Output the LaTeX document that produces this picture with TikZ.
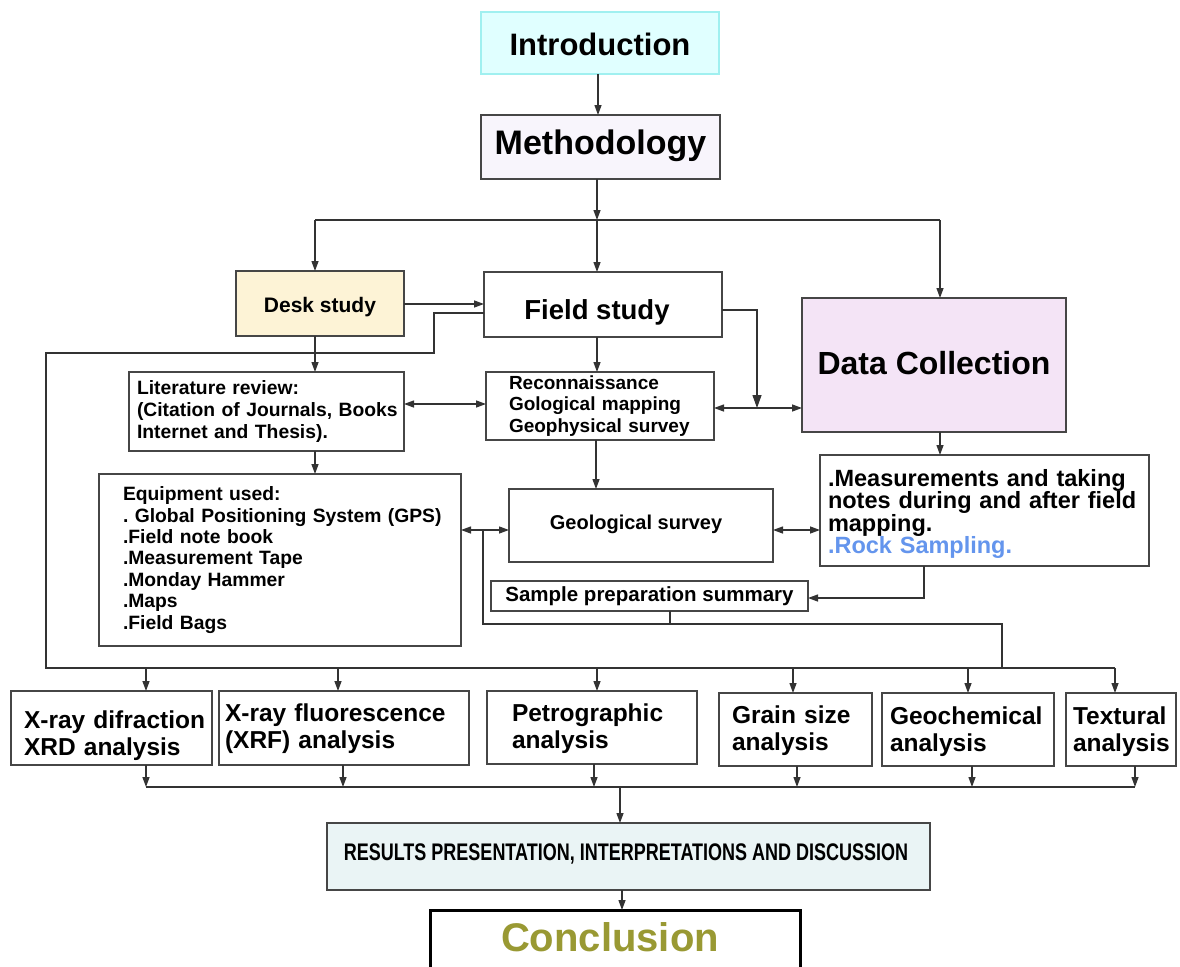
\documentclass[tikz,border=0pt]{standalone}
\usepackage{fontspec}
\setmainfont{Liberation Sans}
\newfontfamily\narrowfont[FakeStretch=0.75]{Liberation Sans}
\usetikzlibrary{arrows.meta,calc}
\definecolor{boxline}{RGB}{70,70,70}
\definecolor{introfill}{RGB}{224,255,255}
\definecolor{introline}{RGB}{160,240,240}
\definecolor{methfill}{RGB}{248,245,252}
\definecolor{deskfill}{RGB}{253,243,214}
\definecolor{datafill}{RGB}{244,228,246}
\definecolor{resfill}{RGB}{234,244,245}
\definecolor{rockblue}{RGB}{100,149,237}
\definecolor{olivetext}{RGB}{153,153,51}
\newcommand\txtshift[2]{\raisebox{#1}[\height][\depth]{#2}}
\frenchspacing
\tikzset{
  bx/.style={draw=boxline, line width=1.2pt, inner sep=0pt, outer sep=0pt, font=\bfseries, align=center},
  lbx/.style={bx, align=left},
  ln/.style={draw=black!80, line width=1.3pt},
  arr/.style={ln, -{Triangle[length=10pt,width=7pt]}},
  bigarr/.style={ln, -{Triangle[length=13pt,width=9pt]}},
  dbl/.style={ln, {Triangle[length=10pt,width=7pt]}-{Triangle[length=10pt,width=7pt]}},
}
\begin{document}
\begin{tikzpicture}[x=1pt,y=-1pt]
\useasboundingbox (0,0) rectangle (1180,966);
\fill[white] (0,0) rectangle (1180,966);

% ---- boxes ----
\node[bx, draw=introline, fill=introfill, minimum width=238, minimum height=62,
  font=\bfseries\fontsize{31}{33}\selectfont] (intro) at (600,43) {\txtshift{-1pt}{Introduction}};
\node[bx, fill=methfill, minimum width=239, minimum height=64,
  font=\bfseries\fontsize{34}{36}\selectfont] (meth) at (600.5,147) {\txtshift{1pt}{Methodology}};
\node[bx, fill=deskfill, minimum width=168, minimum height=65,
  font=\bfseries\fontsize{21}{23}\selectfont] (desk) at (320,303.5) {\txtshift{-4pt}{Desk study}};
\node[bx, fill=white, minimum width=238, minimum height=65,
  font=\bfseries\fontsize{27.5}{29}\selectfont] (field) at (603,304.5) {\txtshift{-8pt}{\hspace*{-12pt}Field study}};
\node[bx, fill=datafill, minimum width=264, minimum height=134,
  font=\bfseries\fontsize{32}{34}\selectfont] (data) at (934,365) {\txtshift{2pt}{Data Collection}};

\node[lbx, minimum width=275, minimum height=79, text width=259pt, inner xsep=8pt,
  font=\bfseries\fontsize{19.3}{21.8}\selectfont] (lit) at (266.5,411.5)
  {\mbox{Literature review:}\\\mbox{(Citation of Journals, Books}\\\mbox{Internet and Thesis).}};
\node[lbx, minimum width=228, minimum height=68, text width=182pt, inner xsep=23pt,
  font=\bfseries\fontsize{19}{21.5}\selectfont] (recon) at (600,406)
  {\mbox{Reconnaissance}\\\mbox{Gological mapping}\\\mbox{Geophysical survey}};
\node[lbx, minimum width=329, minimum height=111, text width=313pt, inner xsep=8pt,
  font=\bfseries\fontsize{23.5}{22.2}\selectfont] (meas) at (984.5,510.5)
  {\txtshift{-3.5pt}{.Measurements and taking}\\\txtshift{-3.5pt}{notes during and after field}\\\txtshift{-3.5pt}{mapping.}\\\txtshift{-3.5pt}{\color{rockblue}.Rock Sampling.}};
\node[lbx, minimum width=362, minimum height=172, text width=314pt, inner xsep=24pt,
  font=\bfseries\fontsize{19.3}{21.4}\selectfont] (equip) at (280,560)
  {\mbox{Equipment used:}\\\mbox{.\ Global Positioning System (GPS)}\\\mbox{.Field note book}\\\mbox{.Measurement Tape}\\\mbox{.Monday Hammer}\\\mbox{.Maps}\\\mbox{.Field Bags}};
\node[bx, minimum width=264, minimum height=73,
  font=\bfseries\fontsize{20}{22}\selectfont] (geo) at (641,525.5) {\txtshift{1pt}{\hspace*{-10pt}Geological survey}};
\node[bx, minimum width=317, minimum height=30,
  font=\bfseries\fontsize{20.5}{22}\selectfont] (samp) at (649.5,596) {Sample preparation summary};

\node[lbx, minimum width=201, minimum height=74, text width=175pt, inner xsep=13pt,
  font=\bfseries\fontsize{24.5}{27}\selectfont] (xrd) at (111.5,728)
  {\txtshift{-7.5pt}{X-ray difraction}\\\txtshift{-7.5pt}{XRD analysis}};
\node[lbx, minimum width=250, minimum height=74, text width=238pt, inner xsep=6pt,
  font=\bfseries\fontsize{24.5}{27}\selectfont] (xrf) at (344,728)
  {\txtshift{-1pt}{X-ray fluorescence}\\\txtshift{-1pt}{(XRF) analysis}};
\node[lbx, minimum width=210, minimum height=73, text width=160pt, inner xsep=25pt,
  font=\bfseries\fontsize{24.5}{27}\selectfont] (petro) at (592,727.5)
  {\txtshift{-1.5pt}{Petrographic}\\\txtshift{-1.5pt}{analysis}};
\node[lbx, minimum width=153, minimum height=73, text width=127pt, inner xsep=13pt,
  font=\bfseries\fontsize{24.5}{27}\selectfont] (grain) at (795.5,729.5)
  {\txtshift{-1.5pt}{Grain size}\\\txtshift{-1.5pt}{analysis}};
\node[lbx, minimum width=172, minimum height=73, text width=156pt, inner xsep=8pt,
  font=\bfseries\fontsize{24.5}{27}\selectfont] (geoch) at (968,729.5)
  {\txtshift{-2pt}{Geochemical}\\\txtshift{-2pt}{analysis}};
\node[lbx, minimum width=110, minimum height=73, text width=96pt, inner xsep=7pt,
  font=\bfseries\fontsize{24.5}{27}\selectfont] (textural) at (1121,729.5)
  {\txtshift{-2pt}{Textural}\\\txtshift{-2pt}{analysis}};

\node[bx, fill=resfill, minimum width=603, minimum height=67,
  font=\narrowfont\bfseries\fontsize{24}{26}\selectfont] (results) at (628.5,856.5)
  {\txtshift{3pt}{\hspace*{-5pt}RESULTS PRESENTATION, INTERPRETATIONS AND DISCUSSION}};
\node[bx, draw=black, line width=3pt, minimum width=370, minimum height=60,
  text=olivetext, font=\bfseries\fontsize{40}{42}\selectfont] (concl) at (615,940)
  {\txtshift{3pt}{\hspace*{-10pt}Conclusion}};

% ---- coordinates ----
\coordinate (xim) at (598,0);
\coordinate (mb) at (597,220);
\coordinate (bl) at (315,220);
\coordinate (br) at (940,220);
\coordinate (fl1) at (434,313);
\coordinate (fl2) at (434,353);
\coordinate (fl3) at (46,353);
\coordinate (busL) at (46,668);
\coordinate (busR) at (1115,668);
\coordinate (fr1) at (757,310);
\coordinate (fr2) at (757,408);
\coordinate (ydf) at (0,304);
\coordinate (ylr) at (0,404);
\coordinate (yrd) at (0,408);
\coordinate (xrg) at (596,0);
\coordinate (yeg) at (0,530);
\coordinate (ms1) at (924,598);
\coordinate (sp1) at (670,624);
\coordinate (sp2) at (483,624);
\coordinate (sp3) at (1002,624);
\coordinate (sp4) at (483,530);
\coordinate (d1) at (146,668);
\coordinate (d2) at (338,668);
\coordinate (d3) at (597,668);
\coordinate (d4) at (793,668);
\coordinate (d5) at (968,668);
\coordinate (d6) at (1115,668);
\coordinate (u1) at (146,787);
\coordinate (u2) at (343,787);
\coordinate (u3) at (594,787);
\coordinate (u4) at (797,787);
\coordinate (u5) at (972,787);
\coordinate (u6) at (1135,787);
\coordinate (ru) at (620,787);
\coordinate (rc) at (622,0);

% ---- connectors ----
\draw[arr] (intro.south -| xim) -- (meth.north -| xim);
\draw[arr] (meth.south -| mb) -- (mb);
\draw[ln] (bl) -- (br);
\draw[arr] (bl) -- (bl |- desk.north);
\draw[arr] (mb) -- (mb |- field.north);
\draw[arr] (br) -- (br |- data.north);

\draw[arr] (desk.east |- ydf) -- (field.west |- ydf);
\draw[ln] (fl1 -| field.west) -- (fl1) -- (fl2) -- (fl3) -- (busL) -- (busR);
\draw[bigarr] (fr1 -| field.east) -- (fr1) -- (fr2);

\draw[arr] (desk.south -| bl) -- (lit.north -| bl);
\draw[arr] (field.south -| mb) -- (recon.north -| mb);
\draw[dbl] (lit.east |- ylr) -- (recon.west |- ylr);
\draw[dbl] (recon.east |- yrd) -- (data.west |- yrd);
\draw[arr] (data.south -| br) -- (meas.north -| br);

\draw[arr] (lit.south -| bl) -- (equip.north -| bl);
\draw[arr] (recon.south -| xrg) -- (geo.north -| xrg);
\draw[dbl] (equip.east |- yeg) -- (geo.west |- yeg);
\draw[dbl] (geo.east |- yeg) -- (meas.west |- yeg);
\draw[arr] (meas.south -| ms1) -- (ms1) -- (samp.east |- ms1);

\draw[ln] (samp.south -| sp1) -- (sp1);
\draw[ln] (sp4) -- (sp2) -- (sp3) -- (sp3 |- busL);

\draw[arr] (d1) -- (d1 |- xrd.north);
\draw[arr] (d2) -- (d2 |- xrf.north);
\draw[arr] (d3) -- (d3 |- petro.north);
\draw[arr] (d4) -- (d4 |- grain.north);
\draw[arr] (d5) -- (d5 |- geoch.north);
\draw[arr] (d6) -- (d6 |- textural.north);

\draw[arr] (u1 |- xrd.south) -- (u1);
\draw[arr] (u2 |- xrf.south) -- (u2);
\draw[arr] (u3 |- petro.south) -- (u3);
\draw[arr] (u4 |- grain.south) -- (u4);
\draw[arr] (u5 |- geoch.south) -- (u5);
\draw[arr] (u6 |- textural.south) -- (u6);
\draw[ln] (u1) -- (u6);
\draw[arr] (ru) -- (ru |- results.north);
\draw[arr] (results.south -| rc) -- (concl.north -| rc);
\end{tikzpicture}
\end{document}
